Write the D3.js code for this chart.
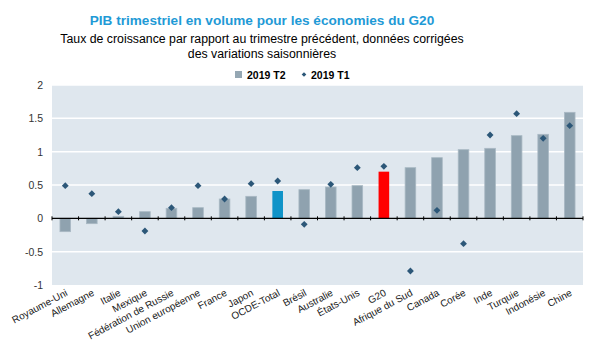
<!DOCTYPE html>
<html>
<head>
<meta charset="utf-8">
<script src="https://cdn.jsdelivr.net/npm/d3@7"></script>
<style>
	body { margin: 0; background: #fff; }
	svg { font-family: Arial, 'Liberation Sans', sans-serif; }
</style>
</head>
<body>
<svg id="chart" width="596" height="346"></svg>
<script>
const COUNTRIES = [
	'Royaume-Uni', 'Allemagne', 'Italie', 'Mexique', 'Fédération de Russie',
	'Union européenne', 'France', 'Japon', 'OCDE-Total', 'Brésil', 'Australie',
	'États-Unis', 'G20', 'Afrique du Sud', 'Canada', 'Corée', 'Inde', 'Turquie',
	'Indonésie', 'Chine'
];
const Q2 = [
	-0.2, -0.08, 0.03, 0.1, 0.15, 0.16, 0.29, 0.33, 0.41, 0.43, 0.47, 0.49,
	0.7, 0.76, 0.91, 1.03, 1.05, 1.24, 1.26, 1.59
];
const Q1 = [
	0.49, 0.37, 0.1, -0.19, 0.16, 0.49, 0.29, 0.52, 0.56, -0.09, 0.51, 0.76,
	0.78, -0.79, 0.12, -0.38, 1.25, 1.57, 1.2, 1.39
];
const Y_TICKS = [-1, -0.5, 0, 0.5, 1, 1.5, 2];
const HIGHLIGHT = { 'OCDE-Total': '#0f93c8', G20: '#ff0000' };

const $svg = d3.select('#chart');
const plotLeft = 52;
const plotRight = 583;
const plotTop = 85;
const plotBottom = 285;

const x = d3.scaleBand().domain(COUNTRIES).range([plotLeft, plotRight]).paddingInner(0).paddingOuter(0);
const y = d3.scaleLinear().domain([-1, 2]).range([plotBottom, plotTop]);

// titles
$svg.append('text')
	.attr('x', 262).attr('y', 25)
	.attr('text-anchor', 'middle')
	.attr('fill', '#1f9ad6')
	.attr('font-size', 13.6).attr('font-weight', 'bold')
	.text('PIB trimestriel en volume pour les économies du G20');
const $sub = $svg.append('text')
	.attr('text-anchor', 'middle')
	.attr('fill', '#000')
	.attr('font-size', 12.3);
$sub.append('tspan').attr('x', 262).attr('y', 43)
	.text('Taux de croissance par rapport au trimestre précédent, données corrigées');
$sub.append('tspan').attr('x', 262).attr('y', 58)
	.text('des variations saisonnières');

// legend
const $legend = $svg.append('g').attr('font-size', 10.5).attr('font-weight', 'bold');
$legend.append('rect').attr('x', 235).attr('y', 71).attr('width', 7).attr('height', 7).attr('fill', '#95a7b3');
$legend.append('text').attr('x', 247).attr('y', 79).text('2019 T2');
$legend.append('path')
	.attr('transform', 'translate(304,74.5)')
	.attr('d', d3.symbol(d3.symbolDiamond2, 14))
	.attr('fill', '#2c5778');
$legend.append('text').attr('x', 311).attr('y', 79).text('2019 T1');

// plot background and grid
$svg.append('rect')
	.attr('x', plotLeft).attr('y', plotTop)
	.attr('width', plotRight - plotLeft).attr('height', plotBottom - plotTop)
	.attr('fill', '#dfe7ee');
$svg.append('g')
	.selectAll('line')
	.data(Y_TICKS.filter(d => d !== 0 && d !== -1))
	.join('line')
	.attr('x1', plotLeft).attr('x2', plotRight)
	.attr('y1', d => y(d)).attr('y2', d => y(d))
	.attr('stroke', '#fff').attr('stroke-width', 1.5);

// y axis labels
const yAxis = d3.axisLeft(y).tickValues(Y_TICKS).tickSize(0).tickPadding(9)
	.tickFormat(d => String(d));
$svg.append('g')
	.attr('transform', `translate(${plotLeft},0)`)
	.call(yAxis)
	.call(g => g.select('.domain').remove())
	.selectAll('text')
	.attr('font-size', 10.5)
	.attr('font-family', 'Arial, Liberation Sans, sans-serif')
	.attr('fill', '#333');

// bars
const barW = x.bandwidth() * 0.4;
$svg.append('g')
	.selectAll('rect')
	.data(COUNTRIES)
	.join('rect')
	.attr('x', d => x(d) + (x.bandwidth() - barW) / 2)
	.attr('width', barW)
	.attr('y', (d, i) => y(Math.max(0, Q2[i])))
	.attr('height', (d, i) => Math.abs(y(Q2[i]) - y(0)))
	.attr('fill', d => HIGHLIGHT[d] || '#8fa2af')
	.attr('stroke', d => (HIGHLIGHT[d] ? 'none' : '#a9b9c4'))
	.attr('stroke-width', 0.8);

// zero line with category ticks
const zeroY = y(0);
$svg.append('line')
	.attr('x1', plotLeft).attr('x2', plotRight)
	.attr('y1', zeroY).attr('y2', zeroY)
	.attr('stroke', '#000').attr('stroke-width', 1.2);
$svg.append('g')
	.selectAll('line')
	.data(COUNTRIES.map(d => x(d)).concat([plotRight]))
	.join('line')
	.attr('x1', d => d).attr('x2', d => d)
	.attr('y1', zeroY - 2).attr('y2', zeroY + 2)
	.attr('stroke', '#000').attr('stroke-width', 1);

// 2019 T1 markers
$svg.append('g')
	.selectAll('path')
	.data(COUNTRIES)
	.join('path')
	.attr('transform', (d, i) => `translate(${x(d) + x.bandwidth() / 2},${y(Q1[i])})`)
	.attr('d', d3.symbol(d3.symbolDiamond2, 30))
	.attr('fill', '#2c5778');

// category labels
const xAxis = d3.axisBottom(x).tickSize(0).tickPadding(0);
$svg.append('g')
	.attr('transform', `translate(0,${plotBottom})`)
	.call(xAxis)
	.call(g => g.select('.domain').remove())
	.selectAll('text')
	.attr('font-size', 10)
	.attr('font-family', 'Arial, Liberation Sans, sans-serif')
	.attr('fill', '#222')
	.attr('text-anchor', 'end')
	.attr('dy', null)
	.attr('transform', 'translate(3,10) rotate(-28)');
</script>
</body>
</html>
